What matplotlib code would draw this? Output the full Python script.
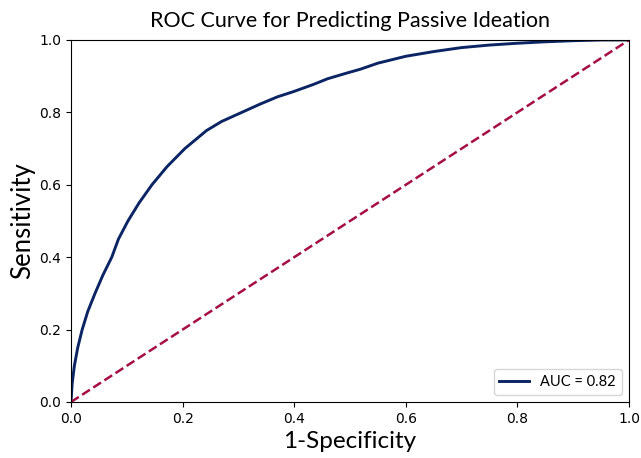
import matplotlib
matplotlib.use("Agg")
import matplotlib.pyplot as plt

# ROC points
fpr = [0, 0.002, 0.006, 0.012, 0.02, 0.03, 0.043, 0.057, 0.073, 0.085, 0.102,
       0.122, 0.145, 0.172, 0.204, 0.243, 0.27, 0.306, 0.339, 0.37, 0.398,
       0.434, 0.46, 0.495, 0.518, 0.55, 0.6, 0.65, 0.7, 0.75, 0.8, 0.85, 0.9,
       0.95, 1.0]
tpr = [0, 0.05, 0.1, 0.15, 0.2, 0.25, 0.3, 0.35, 0.4, 0.45, 0.5,
       0.55, 0.6, 0.65, 0.7, 0.75, 0.775, 0.8, 0.823, 0.843, 0.857,
       0.877, 0.893, 0.909, 0.919, 0.936, 0.955, 0.968, 0.979, 0.986, 0.991, 0.995, 0.998,
       1.0, 1.0]
chance = [0, 1]
auc_label = 'AUC = 0.82'

fig = plt.figure(figsize=(6.41, 4.58), dpi=100)
ax = fig.add_axes([0.1108, 0.1223, 0.8705, 0.7904])

ax.plot(fpr, tpr, color='#0b2463', linewidth=2.1, label=auc_label)
ax.plot(chance, chance, color='#a50f45', linewidth=1.8, linestyle='--')

ax.set_xlim(0, 1)
ax.set_ylim(0, 1)
ax.set_title('ROC Curve for Predicting Passive Ideation', fontsize=15.5, family='Lato', pad=9)
ax.set_xlabel('1-Specificity', fontsize=17.5, family='Lato', labelpad=4)
ax.set_ylabel('Sensitivity', fontsize=18.5, family='Lato', labelpad=3)
ax.tick_params(labelsize=10)

leg = ax.legend(loc='lower right', prop={'family': 'Lato', 'size': 10.5})

fig.savefig('out.png', dpi=100)
